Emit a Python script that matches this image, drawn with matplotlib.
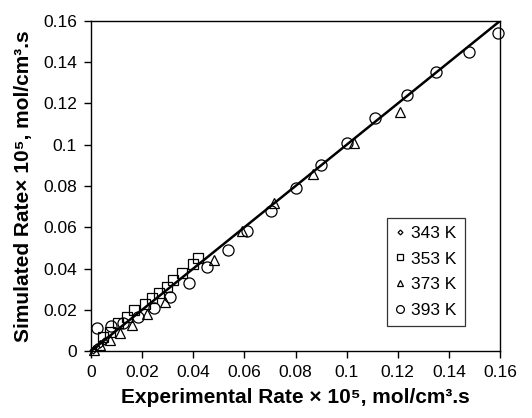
import matplotlib
matplotlib.use("Agg")
import matplotlib.pyplot as plt

plt.rcParams['font.family'] = ['Liberation Sans', 'DejaVu Sans']

# 343 K
exp_343 = [0.0008, 0.002, 0.0035, 0.005]
sim_343 = [0.0007, 0.0018, 0.0033, 0.0048]
# 353 K
exp_353 = [0.0047, 0.0074, 0.0106, 0.014, 0.017, 0.021, 0.024, 0.0265, 0.0297, 0.032, 0.0356, 0.040, 0.042]
sim_353 = [0.0068, 0.0092, 0.0136, 0.0165, 0.020, 0.023, 0.0257, 0.028, 0.031, 0.0344, 0.038, 0.042, 0.045]
# 373 K
exp_373 = [0.001, 0.0035, 0.0074, 0.0113, 0.016, 0.022, 0.029, 0.048, 0.059, 0.0716, 0.087, 0.103, 0.121]
sim_373 = [0.0005, 0.003, 0.0053, 0.0087, 0.0126, 0.018, 0.024, 0.044, 0.058, 0.072, 0.086, 0.101, 0.116]
# 393 K
exp_393 = [0.0024, 0.0078, 0.0125, 0.0185, 0.0247, 0.031, 0.0384, 0.0455, 0.0536, 0.061, 0.0706, 0.080,
           0.090, 0.100, 0.111, 0.1235, 0.135, 0.148, 0.159]
sim_393 = [0.011, 0.012, 0.0136, 0.0165, 0.021, 0.026, 0.033, 0.0406, 0.049, 0.058, 0.068, 0.079,
           0.090, 0.101, 0.113, 0.124, 0.135, 0.145, 0.154]
line_x = [0.0, 0.16]
line_y = [0.0, 0.16]

xticks = [0, 0.02, 0.04, 0.06, 0.08, 0.1, 0.12, 0.14, 0.16]
xticklabels = ['0', '0.02', '0.04', '0.06', '0.08', '0.1', '0.12', '0.14', '0.16']

fig = plt.figure(figsize=(5.32, 4.18), dpi=100)
ax = fig.add_axes([0.171, 0.160, 0.769, 0.790])

mk = dict(linestyle='none', markerfacecolor='none', markeredgecolor='black', markeredgewidth=0.9, clip_on=False)
ax.plot(exp_343, sim_343, marker='D', markersize=3.5, label='343 K', **mk)
ax.plot(exp_353, sim_353, marker='s', markersize=6.5, label='353 K', **mk)
ax.plot(exp_373, sim_373, marker='^', markersize=7, label='373 K', **mk)
ax.plot(exp_393, sim_393, marker='o', markersize=8, label='393 K', **mk)
ax.plot(line_x, line_y, color='black', linewidth=1.8, solid_capstyle='butt')

ax.set_xlim(0, 0.16)
ax.set_ylim(0, 0.16)
ax.set_xticks(xticks)
ax.set_xticklabels(xticklabels)
ax.set_yticks(xticks)
ax.set_yticklabels(xticklabels)
ax.tick_params(direction='out', length=5, width=1, labelsize=12.5, pad=5, top=False, right=False)
for s in ax.spines.values():
    s.set_linewidth(1.0)

ax.set_xlabel('Experimental Rate \u00d7 10\u2075, mol/cm\u00b3.s', fontsize=15, fontweight='bold', labelpad=6)
ax.set_ylabel('Simulated Rate\u00d7 10\u2075, mol/cm\u00b3.s', fontsize=15, fontweight='bold', labelpad=7)

leg = ax.legend(loc='upper left', bbox_to_anchor=(0.724, 0.403), frameon=True, fancybox=False,
                edgecolor='black', fontsize=12.5, handlelength=0.6, handletextpad=0.35,
                borderpad=0.45, labelspacing=0.6, markerscale=0.7, borderaxespad=0)
leg.get_frame().set_linewidth(0.9)

fig.savefig('out.png', dpi=100)
